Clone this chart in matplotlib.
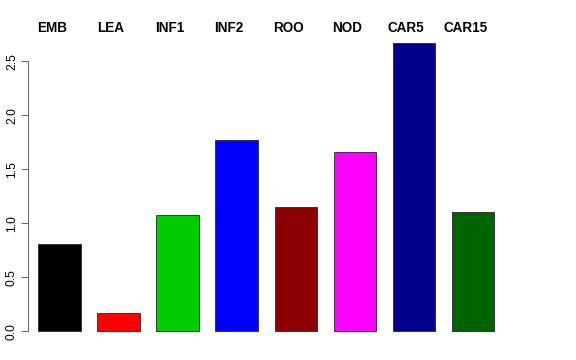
import matplotlib
matplotlib.use("Agg")
import matplotlib.pyplot as plt

# Bar heights
tissues = ["EMB", "LEA", "INF1", "INF2", "ROO", "NOD", "CAR5", "CAR15"]
values = [0.81, 0.175, 1.075, 1.77, 1.155, 1.665, 2.67, 1.11]
colors = ["#000000", "#FF0000", "#00CD00", "#0000FF", "#8B0000", "#FF00FF", "#00008B", "#006400"]
yticks = [0.0, 0.5, 1.0, 1.5, 2.0, 2.5]

plt.rcParams["font.family"] = ["Liberation Sans", "DejaVu Sans"]

fig = plt.figure(figsize=(8, 5), dpi=72)
# axes placed to mimic R's plot region (pixels: left 28, right 504, top 31, bottom 343)
ax = fig.add_axes([28 / 576, 1 - 343 / 360, (504.5 - 28) / 576, (343 - 31.5) / 360])

x = range(len(tissues))
ax.bar(x, values, width=0.72, color=colors, edgecolor="#222222", linewidth=0.8)

ymax = max(values)
ax.set_ylim(-0.04 * ymax, ymax * 1.04)
ax.set_xlim(-0.533, len(tissues) - 1 + 0.533)

# tissue names above the plot
for i, name in enumerate(tissues):
    ax.annotate(name, xy=(i - 0.13, 1 - 28 / 360), xycoords=("data", "figure fraction"),
                ha="center", va="center", fontsize=13.5, fontweight="bold", annotation_clip=False)

for side in ["top", "right", "bottom"]:
    ax.spines[side].set_visible(False)
ax.spines["left"].set_bounds(0, 2.5)
ax.spines["left"].set_color("#444444")
ax.set_xticks([])
ax.set_yticks(yticks)
ax.set_yticklabels(["%.1f" % t for t in yticks], rotation=90, va="center", fontsize=12)
ax.tick_params(axis="y", length=7, width=0.8, color="#444444", pad=3)
ax.patch.set_visible(False)

fig.savefig("out.png", dpi=72)
